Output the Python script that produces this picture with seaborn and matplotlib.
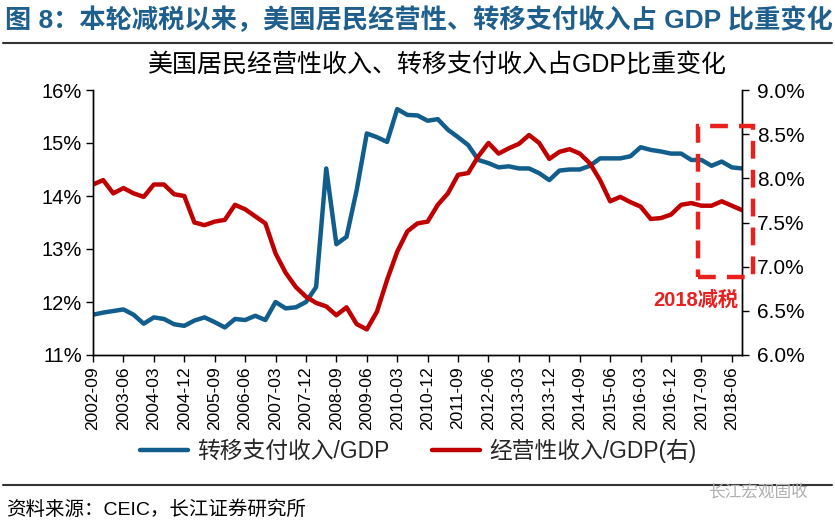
import matplotlib
matplotlib.use("Agg")
import matplotlib.pyplot as plt
import seaborn as sns
import pandas as pd
import numpy as np
from matplotlib.patches import Rectangle
from matplotlib.lines import Line2D

sns.set_theme(style="white")
plt.rcParams['font.family'] = ['Liberation Sans', 'Noto Sans CJK SC', 'DejaVu Sans']
plt.rcParams['axes.unicode_minus'] = False

# quarterly periods 2002-09 .. 2018-09
quarters = pd.period_range("2002Q3", "2018Q3", freq="Q")
periods = [f"{q.year}-{q.quarter*3:02d}" for q in quarters]

transfer = [11.76, 11.80, 11.83, 11.86, 11.76, 11.59, 11.71, 11.68, 11.58, 11.55,
            11.65, 11.71, 11.62, 11.52, 11.68, 11.66, 11.74, 11.66, 12.00, 11.88,
            11.90, 12.00, 12.28, 14.52, 13.09, 13.23, 14.11, 15.18, 15.11, 15.02,
            15.64, 15.53, 15.52, 15.42, 15.45, 15.25, 15.11, 14.96, 14.68, 14.62,
            14.54, 14.56, 14.52, 14.52, 14.43, 14.30, 14.48, 14.50, 14.50, 14.57,
            14.71, 14.71, 14.71, 14.75, 14.92, 14.87, 14.84, 14.80, 14.80, 14.68,
            14.68, 14.57, 14.65, 14.54, 14.52]

business = [7.93, 7.98, 7.83, 7.89, 7.83, 7.79, 7.93, 7.93, 7.82, 7.80,
            7.50, 7.47, 7.51, 7.53, 7.70, 7.65, 7.57, 7.49, 7.15, 6.93,
            6.77, 6.66, 6.59, 6.55, 6.45, 6.54, 6.35, 6.29, 6.49, 6.85,
            7.17, 7.40, 7.49, 7.51, 7.70, 7.83, 8.04, 8.06, 8.25, 8.40,
            8.28, 8.34, 8.39, 8.49, 8.40, 8.22, 8.30, 8.33, 8.28, 8.17,
            7.98, 7.74, 7.79, 7.73, 7.68, 7.54, 7.55, 7.59, 7.70, 7.72,
            7.69, 7.69, 7.74, 7.69, 7.64]

left_ticks = [11, 12, 13, 14, 15, 16]
right_ticks = [6.0, 6.5, 7.0, 7.5, 8.0, 8.5, 9.0]

BLUE = "#115e8c"
RED = "#c00000"
TITLE_C = "#1f5f8e"

df = pd.DataFrame({"idx": np.arange(len(periods)), "period": periods,
                   "transfer": transfer, "business": business})

fig = plt.figure(figsize=(8.35, 5.26), dpi=100)
ax = fig.add_axes([93/835, 1-355/526, (742-93)/835, (355-90)/526])
ax2 = ax.twinx()

sns.lineplot(data=df, x="idx", y="transfer", ax=ax, color=BLUE, lw=3.2, legend=False)
sns.lineplot(data=df, x="idx", y="business", ax=ax2, color=RED, lw=3.2, legend=False)

ax.set_xlim(0, len(periods) - 1)
ax.set_ylim(11, 16)
ax2.set_ylim(6, 9)
ax.set_yticks(left_ticks)
ax.set_yticklabels([f"{v}%" for v in left_ticks])
ax2.set_yticks(right_ticks)
ax2.set_yticklabels([f"{v:.1f}%" for v in right_ticks])
xt = list(range(0, len(periods), 3))
ax.set_xticks(xt)
ax.set_xticklabels([periods[i] for i in xt], rotation=90)
ax.set_xlabel("")
ax.set_ylabel("")
ax2.set_ylabel("")

for a in (ax, ax2):
    for s in a.spines.values():
        s.set_color("black")
        s.set_linewidth(1.0)
    a.spines["top"].set_visible(False)
    a.grid(False)
ax.tick_params(axis="y", which="both", left=True, length=5, width=1, labelsize=14.5, pad=3, colors="black")
ax.tick_params(axis="x", bottom=True, length=5, width=1, labelsize=12.5, pad=3, colors="black")
ax2.tick_params(axis="y", right=True, length=5, width=1, labelsize=15, pad=6, colors="black")

# dashed box highlighting 2018 tax cut
rect = Rectangle((698/835, 1-277/526), (753-698)/835, (277-126)/526,
                 transform=fig.transFigure, fill=False, edgecolor="#e8201e",
                 lw=3.2, linestyle=(0, (4, 2.5)), clip_on=False)
fig.add_artist(rect)
fig.text(696/835, 1-300/526, "2018减税", color="#e8201e", fontsize=14.5, fontweight="bold",
         ha="center", va="center")

# headings
fig.text(5/835, 1-20/526, "图 8：本轮减税以来，美国居民经营性、转移支付收入占 GDP 比重变化",
         color=TITLE_C, fontsize=18.9, fontweight="bold", ha="left", va="center")
fig.add_artist(Line2D([0.003, 0.997], [1-43/526, 1-43/526], transform=fig.transFigure,
                      color="#333333", lw=1.5))
fig.text(437/835, 1-66/526, "美国居民经营性收入、转移支付收入占GDP比重变化",
         color="black", fontsize=18, ha="center", va="center")

# legend
handles = [Line2D([], [], color=BLUE, lw=3.2), Line2D([], [], color=RED, lw=3.2)]
fig.legend(handles, ["转移支付收入/GDP", "经营性收入/GDP(右)"], loc="center",
           bbox_to_anchor=(418/835, 1-451/526), ncol=2, frameon=False, fontsize=16.4,
           handlelength=2.1, columnspacing=1.9, handletextpad=0.4)

# footer
fig.add_artist(Line2D([0.003, 0.997], [1-485/526, 1-485/526], transform=fig.transFigure,
                      color="#333333", lw=1.5))
fig.text(6/835, 1-510/526, "资料来源：CEIC，长江证券研究所", color="black", fontsize=14,
         ha="left", va="center")
fig.text(808/835, 1-492/526, "长江宏观固收", color="#b0b0b0", fontsize=12,
         ha="right", va="center")

fig.savefig("out.png", dpi=100, facecolor="white")
